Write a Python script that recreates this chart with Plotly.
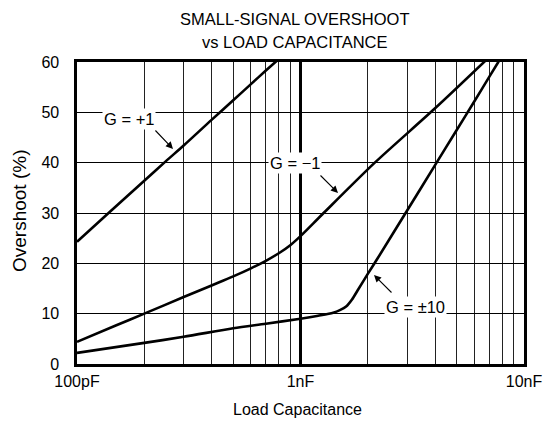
import math
import plotly.graph_objects as go

# ---- data (capacitance in pF, overshoot in %) ----
cap_g_plus1 = [100, 140, 200, 250, 300, 400, 500, 600, 700, 800]
os_g_plus1 = [24.3, 30.2, 36.4, 40.3, 43.4, 48.5, 52.4, 55.6, 58.3, 60.6]

cap_g_minus1 = [100, 150, 200, 300, 400, 500, 600, 700, 800, 900, 1000, 1250,
                2150, 4000, 7000]
os_g_minus1 = [4.4, 7.7, 10.0, 13.3, 15.6, 17.4, 19.0, 20.5, 22.0, 23.6, 25.4, 29.7,
               40.0, 50.8, 61.0]

cap_g_10 = [100, 200, 300, 500, 700, 1000, 1200, 1400, 1500, 1600, 1700, 1800,
            2000, 2200, 3000, 4000, 5000, 6000, 7000, 7700]
os_g_10 = [2.2, 4.2, 5.4, 7.1, 8.0, 9.0, 9.6, 10.2, 10.7, 11.4, 12.8, 14.6,
           17.9, 20.8, 30.5, 39.5, 46.5, 52.2, 57.1, 60.1]

x_tick_vals = [100, 1000, 10000]
x_tick_text = ["100pF", "1nF", "10nF"]
x_minor_vals = [200, 300, 400, 500, 600, 700, 800, 900,
                2000, 3000, 4000, 5000, 6000, 7000, 8000, 9000]
y_tick_vals = [0, 10, 20, 30, 40, 50, 60]

FONT = "Liberation Sans, Arial, Helvetica, sans-serif"
FS = 16

fig = go.Figure()
for cx, cy in [(cap_g_plus1, os_g_plus1), (cap_g_minus1, os_g_minus1), (cap_g_10, os_g_10)]:
    fig.add_trace(go.Scatter(x=cx, y=cy, mode="lines",
                             line=dict(color="black", width=2.6, shape="spline", smoothing=0.8),
                             showlegend=False, hoverinfo="skip"))

W, H = 557, 424
L, R, T, B = 77, 33, 62, 60
PW, PH = W - L - R, H - T - B

def px_to_logx(px):
    return 2 + (px - L) / (PW / 2)

def py_to_y(py):
    return (H - B - py) / (PH / 60)

labels = [("G = +1", 129, 119), ("G = \u22121", 295, 163), ("G = \u00b110", 415, 307)]
arrows = [((154, 129), (173, 149)), ((319, 174), (338, 193)), ((393, 294), (374, 275))]

annotations = []
for txt, px, py in labels:
    annotations.append(dict(x=px_to_logx(px), y=py_to_y(py), xref="x", yref="y",
                            text=txt, showarrow=False, bgcolor="white", borderpad=1,
                            font=dict(family=FONT, size=16.5, color="black")))
for (tx, ty), (hx, hy) in arrows:
    annotations.append(dict(x=px_to_logx(hx), y=py_to_y(hy), xref="x", yref="y",
                            ax=tx - hx, ay=ty - hy, text="", showarrow=True,
                            arrowhead=2, arrowsize=1.3, arrowwidth=1.1, arrowcolor="black",
                            standoff=0, startstandoff=0))

# titles
annotations.append(dict(x=(295 - L) / PW, y=1 + (T - 19) / PH, xref="paper", yref="paper",
                        text="SMALL-SIGNAL OVERSHOOT", showarrow=False, xanchor="center", yanchor="middle",
                        font=dict(family=FONT, size=16.5, color="black")))
annotations.append(dict(x=(295 - L) / PW, y=1 + (T - 42) / PH, xref="paper", yref="paper",
                        text="vs LOAD CAPACITANCE", showarrow=False, xanchor="center", yanchor="middle",
                        font=dict(family=FONT, size=16.5, color="black")))
annotations.append(dict(x=(297 - L) / PW, y=-(409 - (H - B)) / PH, xref="paper", yref="paper",
                        text="Load Capacitance", showarrow=False, xanchor="center", yanchor="middle",
                        font=dict(family=FONT, size=16, color="black")))
annotations.append(dict(x=(19 - L) / PW, y=(H - B - 211) / PH, xref="paper", yref="paper",
                        text="Overshoot (%)", showarrow=False, textangle=-90,
                        xanchor="center", yanchor="middle",
                        font=dict(family=FONT, size=19, color="black")))

fig.update_layout(
    width=W, height=H,
    margin=dict(l=L, r=R, t=T, b=B, pad=0),
    paper_bgcolor="white", plot_bgcolor="white",
    font=dict(family=FONT, size=FS, color="black"),
    annotations=annotations,
    xaxis=dict(type="log", range=[2, 4], tickvals=x_tick_vals, ticktext=x_tick_text,
               automargin=False,
               showgrid=True, gridcolor="black", gridwidth=2.2,
               minor=dict(tickvals=x_minor_vals, showgrid=True, gridcolor="#222", gridwidth=1, ticks=""),
               showline=True, linecolor="black", linewidth=2.6, mirror=True,
               ticks="", ticklabelstandoff=1, zeroline=False,
               tickfont=dict(family=FONT, size=FS, color="black")),
    yaxis=dict(range=[0, 60], tickvals=y_tick_vals, automargin=False,
               showgrid=True, gridcolor="black", gridwidth=1,
               showline=True, linecolor="black", linewidth=2.6, mirror=True,
               ticks="", ticklabelstandoff=12, zeroline=False,
               tickfont=dict(family=FONT, size=FS, color="black")),
)

fig.write_html("out.html", config={"displayModeBar": False, "staticPlot": True},
               post_script="document.body.style.margin='0px';document.body.style.padding='0px';")
